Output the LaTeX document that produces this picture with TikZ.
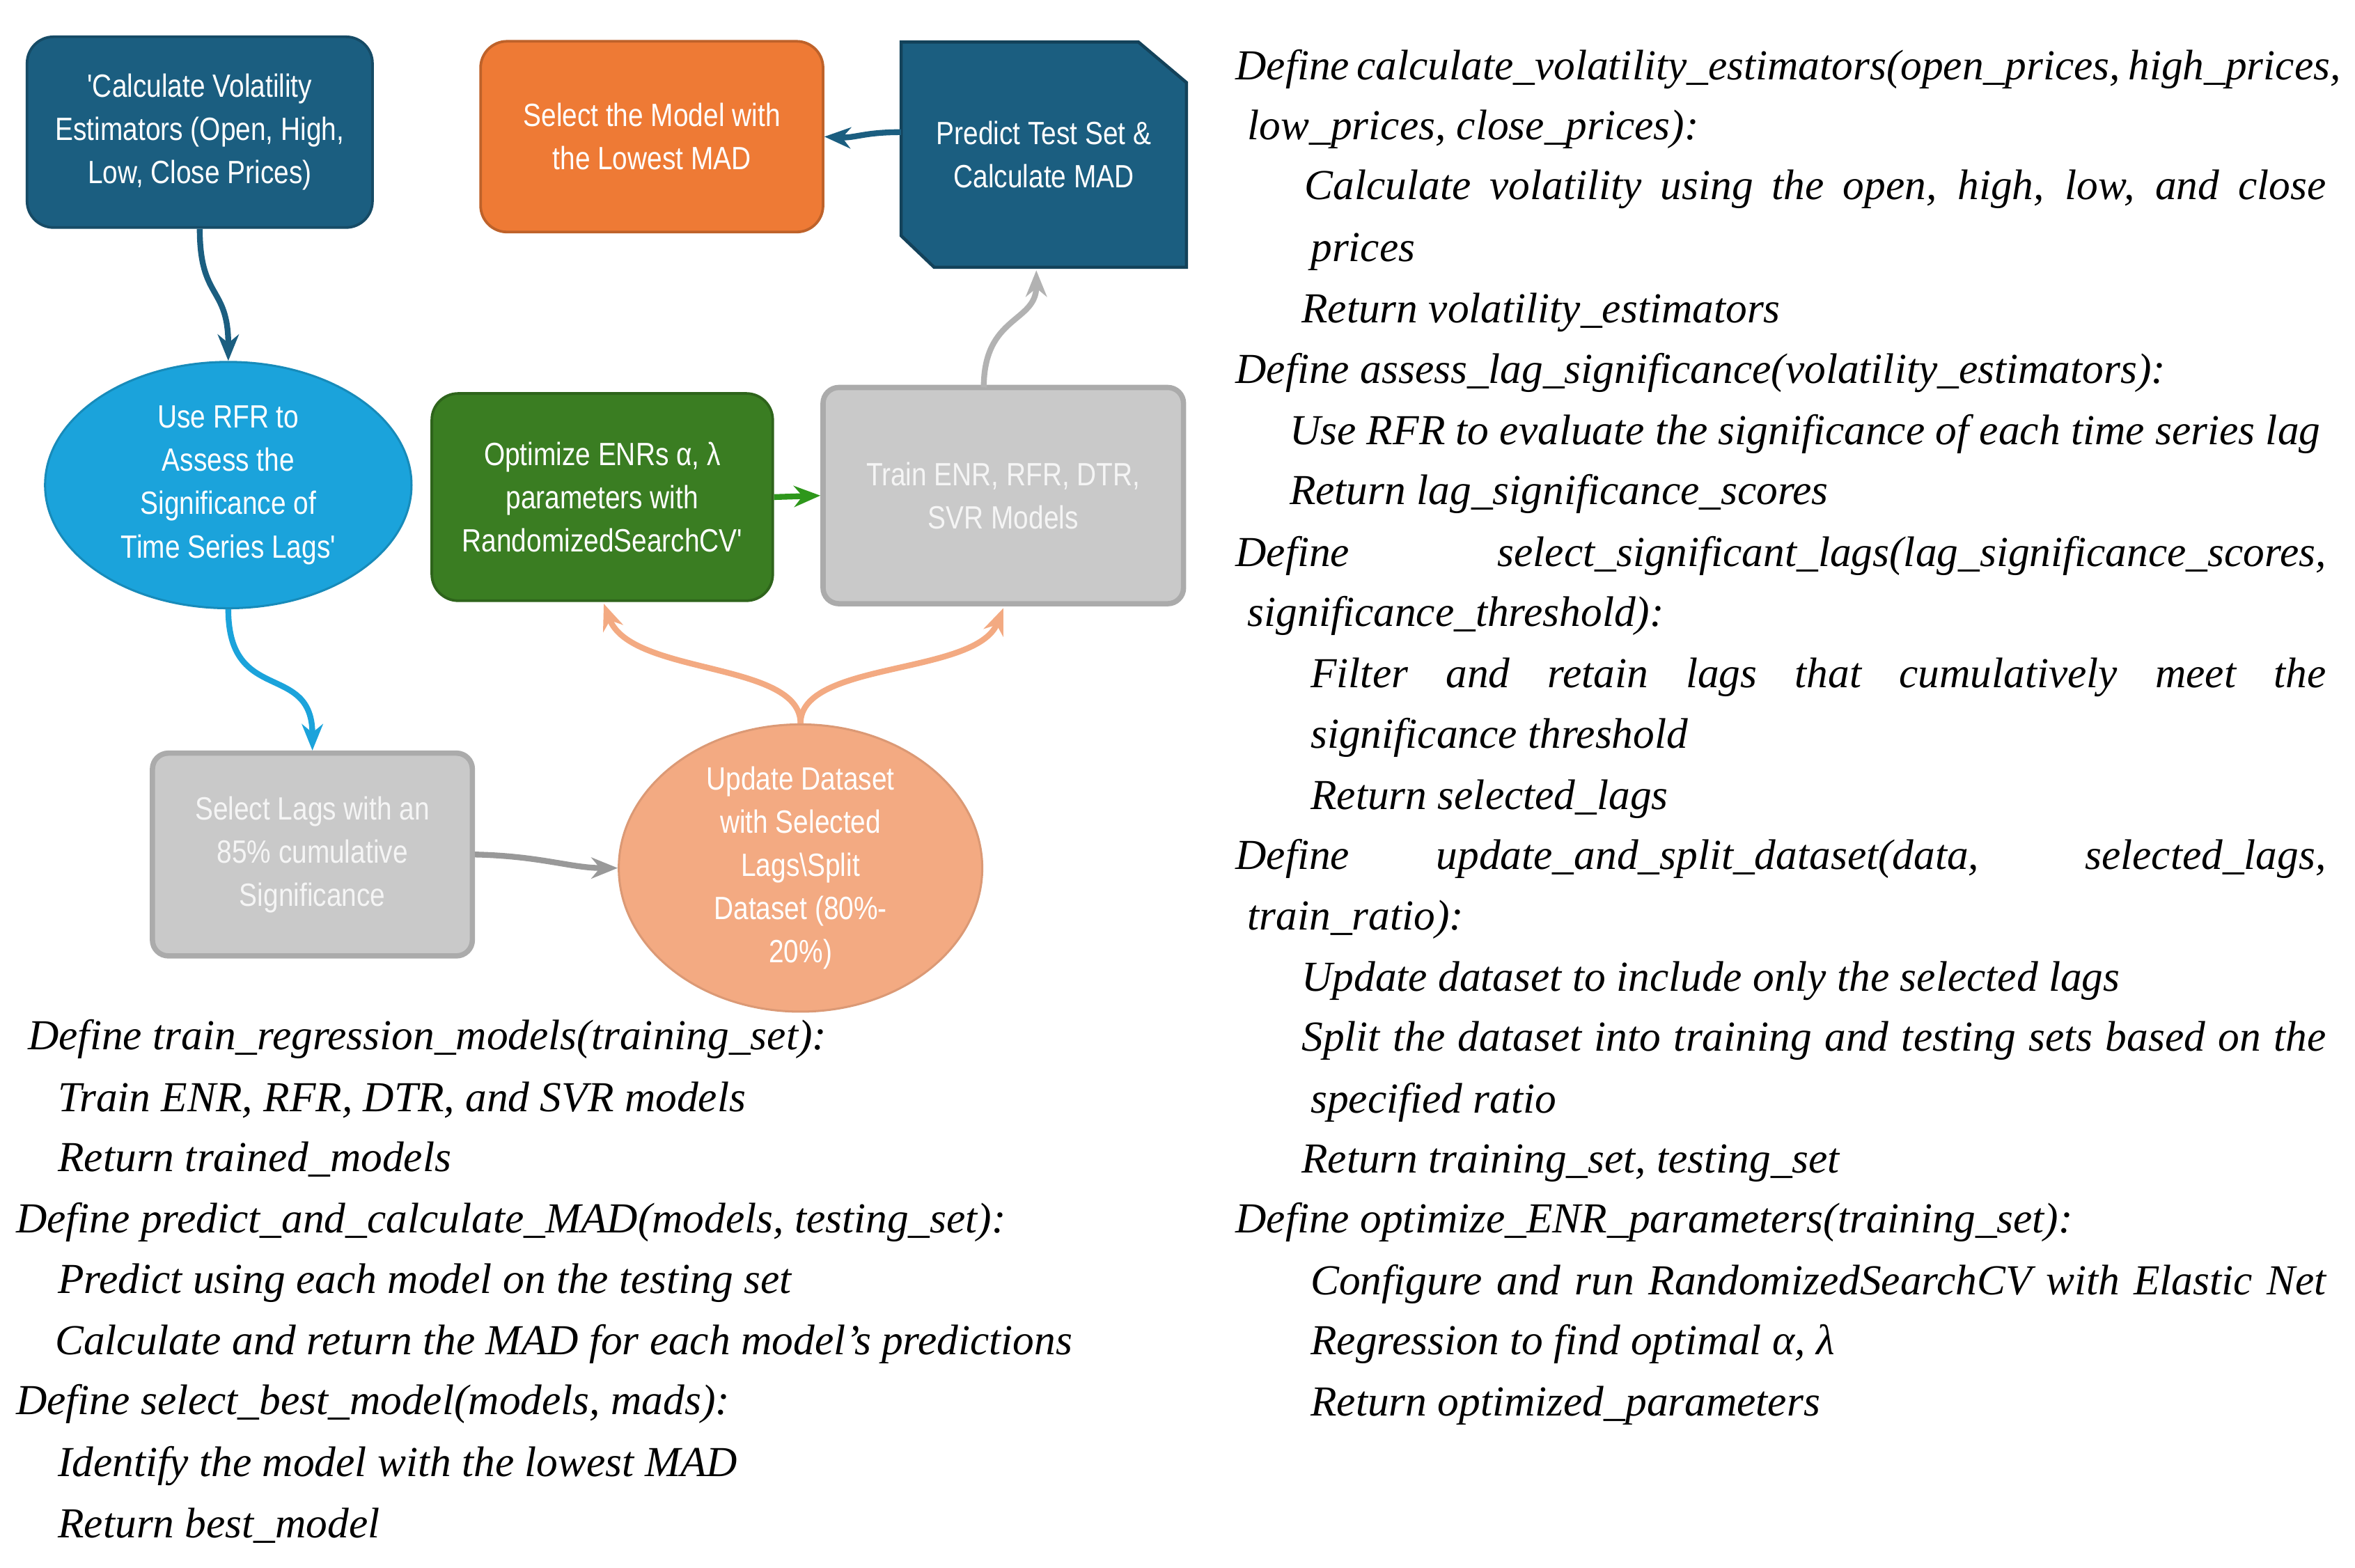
\documentclass[tikz,border=0pt]{standalone}
\usepackage{fontspec}
\setmainfont{Liberation Serif}
\newfontfamily\boxfont{Liberation Sans}[FakeStretch=0.84]
\usetikzlibrary{shapes.geometric,arrows.meta}
\definecolor{dblue}{HTML}{1B5E80}
\definecolor{orng}{HTML}{EE7A35}
\definecolor{cyn}{HTML}{1BA3DB}
\definecolor{grn}{HTML}{3A7D22}
\definecolor{gry}{HTML}{C9C9C9}
\definecolor{salm}{HTML}{F3AA82}
\tikzset{
  box/.style={draw=#1!80!black, fill=#1, line width=0.5pt, text=white, font=\boxfont\fontsize{6.1}{8.2}\selectfont, align=center, inner sep=0pt},
  gbox/.style={draw=gry!85!black, fill=gry, line width=1pt, text=white!92!gray, font=\boxfont\fontsize{6.1}{8.2}\selectfont, align=center, inner sep=0pt, rounded corners=3pt},
  arr/.style={line width=1.1pt, -{Stealth[length=5pt,width=4pt]}, #1},
  code/.style={anchor=base west, inner sep=0pt, font=\fontsize{8.1}{10}\selectfont\itshape}
}
\newcommand{\cl}[3]{\node[code] at (#1,#2) {#3};}
\newcommand{\jl}[4]{\node[code] at (#1,#2) {\makebox[\dimexpr 0.1mm*#3\relax][s]{#4}};}
\begin{document}
\begin{tikzpicture}[x=0.1mm,y=-0.1mm]
\useasboundingbox (0,0) rectangle (1568,1044);
% nodes
\node[box=dblue, rounded corners=5pt, minimum width=230*0.1mm, minimum height=127*0.1mm] (A) at (133,88) {'Calculate Volatility\\Estimators (Open, High,\\Low, Close Prices)};
\node[box=orng, rounded corners=5pt, minimum width=228*0.1mm, minimum height=127*0.1mm] (B) at (434,91) {Select the Model with\\the Lowest MAD};
\draw[draw=dblue!70!black, fill=dblue, line width=0.6pt] (600,28) -- (758,28) -- (790,55) -- (790,178) -- (622,178) -- (600,157) -- cycle;
\node[text=white, font=\boxfont\fontsize{6.1}{8.2}\selectfont, align=center, inner sep=0pt] (C) at (695,103) {Predict Test Set \&\\Calculate MAD};
\coordinate (Cl) at (600,88); \coordinate (Cb) at (690,180);
\node[ellipse, fill=cyn, draw=cyn!85!black, minimum width=244*0.1mm, minimum height=164*0.1mm, text=white, font=\boxfont\fontsize{6.1}{8.2}\selectfont, align=center, inner sep=0pt] (D) at (152,323) {Use RFR to\\Assess the\\Significance of\\Time Series Lags'};
\node[box=grn, rounded corners=5pt, minimum width=227*0.1mm, minimum height=138*0.1mm] (E) at (401,331) {Optimize ENRs α, λ\\parameters with\\RandomizedSearchCV'};
\node[gbox, minimum width=240*0.1mm, minimum height=144*0.1mm] (F) at (668,330) {Train ENR, RFR, DTR,\\SVR Models};
\node[gbox, minimum width=213*0.1mm, minimum height=135*0.1mm] (G) at (208,569) {Select Lags with an\\85\% cumulative\\Significance};
\node[ellipse, fill=salm, draw=salm!90!black, minimum width=242*0.1mm, minimum height=184*0.1mm, text=white, font=\boxfont\fontsize{6.1}{8.2}\selectfont, align=center, inner sep=0pt] (H) at (533,578) {Update Dataset\\with Selected\\Lags\textbackslash Split\\Dataset (80\%-\\20\%)};
% connectors
\draw[arr=dblue] (A.south) .. controls (133,200) and (152,190) .. (D.north);
\draw[arr=cyn] (D.south) .. controls (152,470) and (208,440) .. (G.north);
\draw[arr=gray!80] (G.east) .. controls (360,570) and (380,578) .. (H.west);
\draw[arr=salm] (H.north) .. controls (533,440) and (420,450) .. (402,402);
\draw[arr=salm] (H.north) .. controls (533,440) and (650,450) .. (668,405);
\draw[arr=grn!80!green] (E.east) -- (F.west);
\draw[arr=gray!60] (655,258) .. controls (655,210) and (690,215) .. (Cb);
\draw[arr=dblue] (Cl) .. controls (575,88) and (570,92) .. (B.east);
% right code
\jl{822}{53}{726}{Define calculate\_volatility\_estimators(open\_prices, high\_prices,}
\cl{830}{93}{low\_prices, close\_prices):}
\jl{868}{133}{680}{Calculate volatility using the open, high, low, and close}
\cl{872}{174}{prices}
\cl{866}{215}{Return volatility\_estimators}
\cl{822}{255}{Define assess\_lag\_significance(volatility\_estimators):}
\cl{858}{296}{Use RFR to evaluate the significance of each time series lag}
\cl{858}{336}{Return lag\_significance\_scores}
\jl{822}{377}{726}{Define select\_significant\_lags(lag\_significance\_scores,}
\cl{830}{417}{significance\_threshold):}
\jl{872}{458}{676}{Filter and retain lags that cumulatively meet the}
\cl{872}{498}{significance threshold}
\cl{872}{539}{Return selected\_lags}
\jl{822}{579}{726}{Define update\_and\_split\_dataset(data, selected\_lags,}
\cl{830}{619}{train\_ratio):}
\cl{866}{660}{Update dataset to include only the selected lags}
\jl{866}{700}{682}{Split the dataset into training and testing sets based on the}
\cl{872}{741}{specified ratio}
\cl{866}{781}{Return training\_set, testing\_set}
\cl{822}{821}{Define optimize\_ENR\_parameters(training\_set):}
\jl{872}{862}{676}{Configure and run RandomizedSearchCV with Elastic Net}
\cl{872}{902}{Regression to find optimal α, λ}
\cl{872}{943}{Return optimized\_parameters}
% left code
\cl{18}{699}{Define train\_regression\_models(training\_set):}
\cl{38}{740}{Train ENR, RFR, DTR, and SVR models}
\cl{38}{780}{Return trained\_models}
\cl{10}{821}{Define predict\_and\_calculate\_MAD(models, testing\_set):}
\cl{38}{861}{Predict using each model on the testing set}
\cl{36}{902}{Calculate and return the MAD for each model's predictions}
\cl{10}{942}{Define select\_best\_model(models, mads):}
\cl{38}{983}{Identify the model with the lowest MAD}
\cl{38}{1024}{Return best\_model}
\end{tikzpicture}
\end{document}
